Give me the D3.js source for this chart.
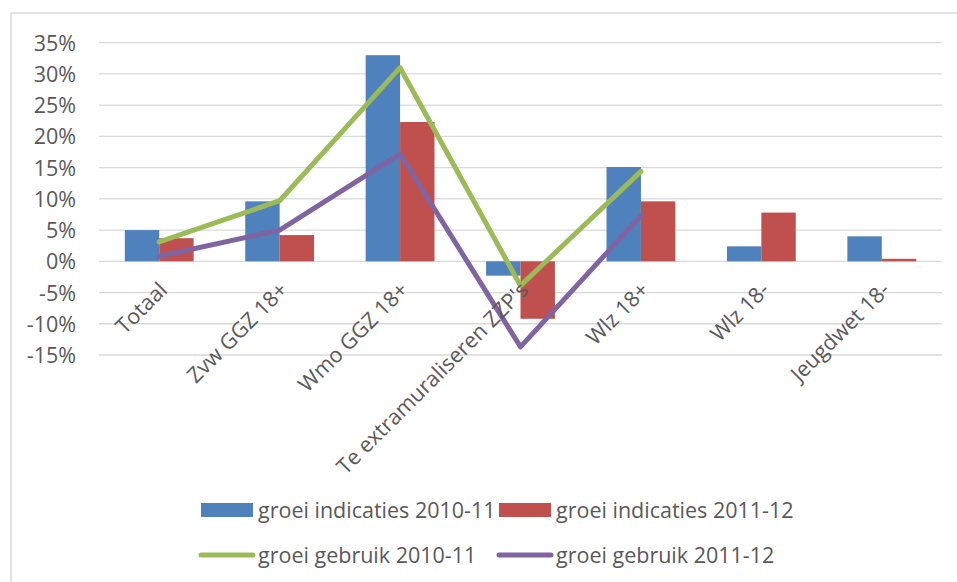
<!DOCTYPE html>
<html>
<head>
<meta charset="utf-8">
<script src="https://cdn.jsdelivr.net/npm/d3@7"></script>
<style>
  html, body { margin: 0; padding: 0; background: #fff; }
  svg { display: block; font-family: "Open Sans", sans-serif; }
</style>
</head>
<body>
<svg id="chart" width="957" height="582"></svg>
<script>
const categories = ["Totaal", "Zvw GGZ 18+", "Wmo GGZ 18+", "Te extramuraliseren ZZP's", "Wlz 18+", "Wlz 18-", "Jeugdwet 18-"];
const indicaties2010 = [5.0, 9.6, 33.0, -2.3, 15.1, 2.4, 4.0];
const indicaties2011 = [3.7, 4.2, 22.3, -9.2, 9.6, 7.8, 0.4];
const gebruik2010 = [3.1, 9.7, 31.0, -3.9, 14.4];
const gebruik2011 = [0.8, 5.0, 17.2, -13.7, 7.3];
const yTicks = [-15, -10, -5, 0, 5, 10, 15, 20, 25, 30, 35];
const seriesNames = ["groei indicaties 2010-11", "groei indicaties 2011-12", "groei gebruik 2010-11", "groei gebruik 2011-12"];
const colors = ["#4f81bd", "#c0504d", "#9bbb59", "#8064a2"];

const svg = d3.select("#chart");
const textColor = "#595959";
const fontSize = 21.5;

// outer frame
svg.append("rect").attr("x", 11).attr("y", 13).attr("width", 1000).attr("height", 1000)
  .attr("fill", "none").attr("stroke", "#d9d9d9").attr("stroke-width", 1.5);

const plot = { left: 99, right: 942, top: 42.7, bottom: 355 };

const x = d3.scaleBand().domain(categories).range([plot.left, plot.right]).paddingInner(0).paddingOuter(0);
const x1 = d3.scaleBand().domain([0, 1]).range([0, x.bandwidth()]).paddingInner(0).paddingOuter(0.75);
const y = d3.scaleLinear().domain([-15, 35]).range([plot.bottom, plot.top]);

// gridlines
svg.append("g").selectAll("line").data(yTicks).join("line")
  .attr("x1", plot.left).attr("x2", plot.right)
  .attr("y1", d => y(d)).attr("y2", d => y(d))
  .attr("stroke", "#d9d9d9").attr("stroke-width", 1.3);

// y axis labels
const yAxis = d3.axisLeft(y).tickValues(yTicks).tickFormat(d => d + "%").tickSize(0).tickPadding(0);
const yg = svg.append("g").attr("transform", `translate(76,0)`).call(yAxis);
yg.select(".domain").remove();
yg.selectAll("text").attr("font-size", fontSize).attr("fill", textColor)
  .attr("font-family", "Open Sans, sans-serif").attr("dy", "0.35em");

// bars
const barSeries = [indicaties2010, indicaties2011];
barSeries.forEach((vals, si) => {
  svg.append("g").selectAll("rect").data(vals).join("rect")
    .attr("x", (d, i) => x(categories[i]) + x1(si))
    .attr("width", x1.bandwidth())
    .attr("y", d => y(Math.max(0, d)))
    .attr("height", d => Math.abs(y(d) - y(0)))
    .attr("fill", colors[si]);
});

// lines
const lineGen = d3.line().x((d, i) => x(categories[i]) + x.bandwidth() / 2).y(d => y(d));
[gebruik2010, gebruik2011].forEach((vals, si) => {
  svg.append("path").datum(vals).attr("d", lineGen)
    .attr("fill", "none").attr("stroke", colors[si + 2]).attr("stroke-width", 5)
    .attr("stroke-linejoin", "round").attr("stroke-linecap", "round");
});

// x labels
svg.append("g").selectAll("text").data(categories).join("text")
  .attr("transform", d => `translate(${x(d) + x.bandwidth() / 2 + 4},${286}) rotate(-45)`)
  .attr("text-anchor", "end").attr("dy", "0.35em")
  .attr("font-size", fontSize).attr("fill", textColor)
  .text(d => d);

// legend
const legendItems = [
  { name: seriesNames[0], color: colors[0], type: "bar", x: 201, y: 510 },
  { name: seriesNames[1], color: colors[1], type: "bar", x: 499, y: 510 },
  { name: seriesNames[2], color: colors[2], type: "line", x: 201, y: 555 },
  { name: seriesNames[3], color: colors[3], type: "line", x: 499, y: 555 }
];
const lg = svg.append("g").selectAll("g").data(legendItems).join("g")
  .attr("transform", d => `translate(${d.x},${d.y})`);
lg.filter(d => d.type === "bar").append("rect")
  .attr("x", 0).attr("y", -7).attr("width", 52).attr("height", 14).attr("fill", d => d.color);
lg.filter(d => d.type === "line").append("line")
  .attr("x1", 0).attr("x2", 52).attr("y1", 0).attr("y2", 0)
  .attr("stroke", d => d.color).attr("stroke-width", 5).attr("stroke-linecap", "round");
lg.append("text").attr("x", 57).attr("dy", "0.35em")
  .attr("font-size", fontSize).attr("fill", textColor).text(d => d.name);
</script>
</body>
</html>
